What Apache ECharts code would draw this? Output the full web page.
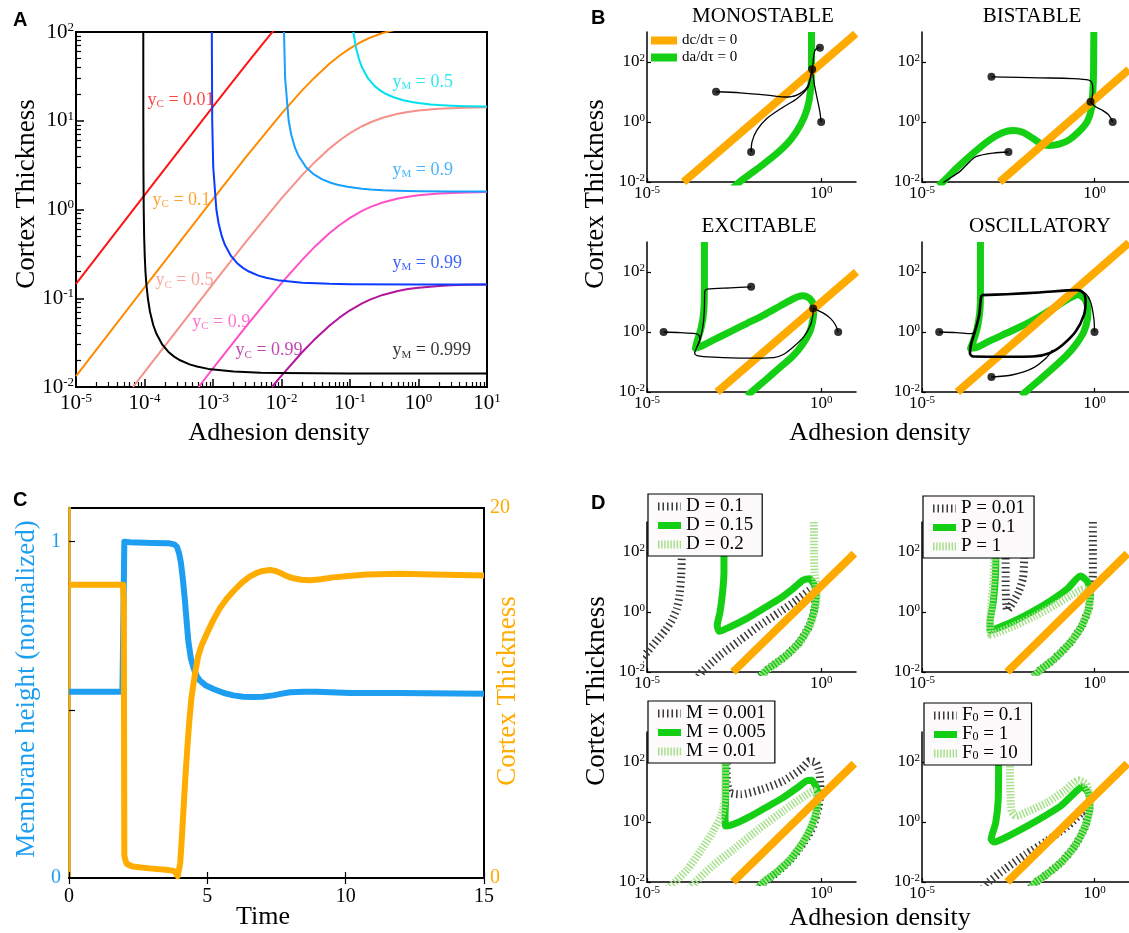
<!DOCTYPE html>
<html><head><meta charset="utf-8">
<script src="https://cdn.jsdelivr.net/npm/echarts@6/dist/echarts.min.js"></script>
<style>html,body{margin:0;padding:0;background:#fff}#c{width:1129px;height:933px}</style>
</head><body><div id="c"></div>
<script>
const SERIF = 'Liberation Serif';
const SANS = 'Liberation Sans';
const ORANGE = '#ffaa00';
const GREEN = '#14cf14';
const LGREEN = '#a8e08e';
const DGRAY = '#3a3a3a';
const C_BLUE = '#1e9ef0';
const C_ORANGE = '#ffac00';

// ---------------- Panel A ----------------
const aXTicks = [1e-5, 1e-4, 1e-3, 1e-2, 1e-1, 1, 10];
const aYTicks = [1e-2, 1e-1, 1, 10, 100];
const aYC_001 = [[1e-5,0.1455],[1e-4,1.454],[1e-3,14.4],[3e-3,42.4],[5e-3,69.2],[7e-3,95.0],[1e-2,132]];
const aYC_01 = [[1e-5,0.01326],[1e-4,0.1325],[1e-3,1.312],[3e-3,3.86],[1e-2,12.02],[2e-2,22.0],[3e-2,30.4],[5e-2,43.8],[7e-2,54.0],[0.1,65.4],[0.15,78.2],[0.2,86.8],[0.3,97.4],[0.5,108],[1,117.6]];
const aYC_05 = [[6.8e-5,0.01],[1e-4,0.0147],[1e-3,0.1455],[3e-3,0.428],[1e-2,1.333],[2e-2,2.438],[3e-2,3.37],[5e-2,4.854],[7e-2,5.983],[0.1,7.25],[0.15,8.674],[0.2,9.62],[0.3,10.8],[0.5,11.97],[0.7,12.55],[1,13.03],[2,13.64],[3,13.85],[5,14.03],[10,14.16]];
const aYC_09 = [[6.16e-4,0.01],[1e-3,0.01617],[3e-3,0.0475],[1e-2,0.148],[2e-2,0.271],[3e-2,0.3745],[5e-2,0.539],[7e-2,0.665],[0.1,0.805],[0.15,0.964],[0.2,1.069],[0.3,1.2],[0.5,1.33],[0.7,1.395],[1,1.448],[2,1.515],[3,1.539],[5,1.559],[10,1.574]];
const aYC_099 = [[7.24e-3,0.01],[1e-2,0.01346],[2e-2,0.02462],[3e-2,0.034],[5e-2,0.049],[7e-2,0.0604],[0.1,0.0732],[0.15,0.0876],[0.2,0.0971],[0.3,0.109],[0.5,0.1209],[0.7,0.1268],[1,0.1316],[2,0.1377],[3,0.1399],[5,0.1416],[10,0.143]];
const aYM_05 = [[0.112,100],[0.1206,70],[0.1345,50],[0.1494,40],[0.1834,30],[0.2243,25],[0.2743,22],[0.337,20],[0.4229,18.5],[0.6,17.02],[0.8,16.25],[1,15.82],[1.5,15.28],[2,15.02],[3,14.77],[5,14.58],[10,14.44]];
const aYM_09 = [[0.01087,100],[0.0113,30],[0.01272,10],[0.01384,7],[0.01569,5],[0.01776,4],[0.02277,3],[0.0294,2.5],[0.0386,2.2],[0.0522,2],[0.0656,1.9],[0.0917,1.8],[0.15,1.712],[0.2,1.68],[0.3,1.649],[0.5,1.625],[1,1.607],[3,1.596],[10,1.592]];
const aYM_099 = [[9.61e-4,100],[9.74e-4,10],[1.008e-3,3],[1.12e-3,1],[1.206e-3,0.7],[1.343e-3,0.5],[1.492e-3,0.4],[1.83e-3,0.3],[2.235e-3,0.25],[2.729e-3,0.22],[3.345e-3,0.2],[4.62e-3,0.18],[5.96e-3,0.17],[8.83e-3,0.16],[0.02,0.1498],[0.05,0.1454],[0.1,0.144],[1,0.1427],[10,0.1426]];
const aYM_0999 = [[9.6e-5,100],[9.614e-5,10],[9.646e-5,3],[9.74e-5,1],[9.88e-5,0.5],[1.008e-4,0.3],[1.033e-4,0.2],[1.06e-4,0.15],[1.119e-4,0.1],[1.204e-4,0.07],[1.341e-4,0.05],[1.488e-4,0.04],[1.823e-4,0.03],[2.22e-4,0.025],[2.708e-4,0.022],[3.31e-4,0.02],[4.55e-4,0.018],[5.83e-4,0.017],[8.53e-4,0.016],[2e-3,0.01492],[5e-3,0.01448],[1e-2,0.01434],[0.1,0.01421],[10,0.0142]];
const aCurveNames = ['y_C = 0.01','y_C = 0.1','y_C = 0.5','y_C = 0.9','y_C = 0.99','y_M = 0.5','y_M = 0.9','y_M = 0.99','y_M = 0.999'];

// ---------------- Panel B ----------------
const bXTicks = [1e-5, 1];
const bYTicks = [1e-2, 1, 100];
const b1Orange = [[1.12e-4,0.01],[9.8,870]];
const b1Green = [[0.0028,0.006],[0.0048,0.0105],[0.0181,0.033],[0.0545,0.0916],[0.131,0.253],[0.255,0.80],[0.40,2.84],[0.49,10.2],[0.527,60],[0.527,1000]];
const b1Fixed = [[0.55,57]];
const b1Starts = [[9.6e-4,10.2],[0.92,300],[1,1],[9.75e-3,0.1]];
const b1T1 = [[9.6e-4,10.2],[4.8e-3,9.4],[2.8e-2,7.9],[8.5e-2,6.8],[0.2,7.9],[0.4,14.9],[0.53,47],[0.55,57]];
const b1T2 = [[9.75e-3,0.1],[0.0104,0.223],[0.0145,0.545],[0.028,1.33],[0.0845,3.24],[0.204,6.1],[0.40,13.1],[0.49,28],[0.55,57]];
const b1T3 = [[0.92,300],[0.69,263],[0.615,166],[0.575,78],[0.55,57]];
const b1T4 = [[1,1],[0.916,2.2],[0.767,6.1],[0.643,16.9],[0.575,41],[0.55,57]];

const b2Orange = [[1.78e-3,0.01],[10,56]];
const b2Green = [[3e-5,0.0075],[4.2e-5,0.0105],[1.01e-4,0.0291],[3.05e-4,0.0916],[9.2e-4,0.254],[2.22e-3,0.444],[4.3e-3,0.518],[8.3e-3,0.455],[0.0162,0.288],[0.028,0.187],[0.0487,0.164],[0.0944,0.182],[0.183,0.254],[0.355,0.48],[0.615,1.03],[0.82,2.84],[0.895,10.2],[0.935,36],[0.957,1000]];
const b2Fixed = [[0.767,4.74]];
const b2Starts = [[1.03e-3,32],[3.37,1],[3.2e-3,0.1]];
const b2T1 = [[1.03e-3,32],[0.0251,29.6],[0.228,28.1],[0.687,24.8],[0.857,19.2],[0.895,10.2],[0.82,5.4],[0.767,4.74]];
const b2T2 = [[3.37,1],[2.58,1.71],[1.66,2.5],[1.07,3.24],[0.767,4.74]];
const b2T3 = [[3.2e-3,0.1],[1.15e-3,0.0916],[3.8e-4,0.071],[2.45e-4,0.0484],[1.26e-4,0.0226],[4.7e-5,0.0105],[3.5e-5,0.008]];

const b3Orange = [[1.03e-3,0.01],[10.3,100]];
const b3Green = [[0.0075,0.0075],[0.0104,0.0105],[0.0251,0.025],[0.0608,0.061],[0.147,0.149],[0.284,0.372],[0.472,1.03],[0.589,2.84],[0.615,6.9],[0.516,11.5],[0.396,14.9],[0.284,16.1],[0.164,13.1],[0.0678,7.5],[0.0225,3.67],[7.5e-3,1.95],[2.48e-3,1.03],[8.2e-4,0.545],[3.41e-4,0.327],[2.45e-4,0.288],[2.74e-4,0.48],[3.56e-4,1.33],[4.25e-4,4.74],[4.45e-4,36],[4.45e-4,1000]];
const b3Fixed = [[0.589,6.1]];
const b3Starts = [[9.75e-3,32],[3.0e-5,1],[3.08,1]];
const b3T1 = [[9.75e-3,32],[2.48e-3,29.6],[5.3e-4,26.7],[4.54e-4,21.8],[4.45e-4,6.1],[4.07e-4,1.71],[3.41e-4,0.618],[2.62e-4,0.288],[2.34e-4,0.197],[2.74e-4,0.164],[8.2e-4,0.145],[7.5e-3,0.134],[0.0436,0.141],[0.0845,0.182],[0.164,0.327],[0.318,0.70],[0.494,1.71],[0.577,3.67],[0.589,6.1]];
const b3T2 = [[3.0e-5,1],[9.1e-5,0.953],[2.45e-4,0.883],[3.12e-4,0.76],[3.26e-4,0.545],[2.74e-4,0.327]];
const b3T3 = [[3.08,1],[2.58,1.71],[1.85,2.84],[1.19,4.17],[0.767,5.4],[0.589,6.1]];

const b4Orange = [[1.06e-4,0.01],[10,940]];
const b4Green = [[0.0075,0.0075],[0.0104,0.0105],[0.0251,0.025],[0.0608,0.061],[0.147,0.156],[0.284,0.372],[0.493,1.03],[0.63,2.84],[0.643,6.1],[0.527,12.5],[0.339,17.8],[0.183,13.1],[0.0757,6.9],[0.0251,3.24],[8.3e-3,1.63],[2.77e-3,0.906],[9.2e-4,0.505],[3.8e-4,0.303],[2.56e-4,0.288],[3.05e-4,0.48],[3.98e-4,1.33],[4.74e-4,4.74],[4.95e-4,21.8],[4.95e-4,1000]];
const b4Starts = [[3.15e-5,1],[1.0,1],[1.03e-3,0.0315]];
const b4Cycle = [[5.3e-4,16.9],[2.77e-3,18.2],[0.0251,20.7],[0.318,24.8],[0.493,19.2],[0.551,10.2],[0.493,3.67],[0.284,1.03],[0.118,0.372],[0.0487,0.197],[0.0162,0.152],[2.77e-3,0.149],[3.05e-4,0.152],[2.45e-4,0.197],[2.62e-4,0.372],[3.41e-4,1.03],[4.54e-4,3.67],[4.95e-4,10.2],[5.3e-4,16.9]];
const b4T1 = [[3.15e-5,1],[1.01e-4,0.953],[2.74e-4,0.883],[3.41e-4,1.03]];
const b4T2 = [[1,1],[0.957,2.84],[0.767,10.2],[0.551,19.2],[0.355,23.5]];
const b4T3 = [[1.03e-3,0.0315],[4.3e-3,0.0376],[0.0162,0.0625],[0.0391,0.134],[0.0608,0.254]];

// ---------------- Panel C ----------------
const cXTicks = [0, 5, 10, 15];
const cMembrane = [[0,0.554],[1.93,0.554],[1.97,0.8],[2.0,1.0],[2.2,0.998],[3.0,0.996],[3.6,0.995],[3.8,0.992],[3.9,0.985],[3.98,0.965],[4.05,0.935],[4.12,0.885],[4.19,0.825],[4.25,0.765],[4.31,0.706],[4.4,0.655],[4.49,0.627],[4.6,0.603],[4.73,0.587],[4.95,0.572],[5.22,0.562],[5.6,0.55],[5.94,0.543],[6.3,0.539],[6.66,0.538],[7.0,0.539],[7.38,0.543],[7.7,0.548],[7.99,0.552],[8.5,0.554],[8.95,0.554],[10.16,0.55],[11.96,0.55],[15,0.548]];
const cCortex = [[0,15.85],[1.95,15.85],[1.98,15.0],[2.0,1.2],[2.05,0.9],[2.1,0.75],[2.3,0.62],[2.9,0.52],[3.5,0.45],[3.75,0.4],[3.85,0.3],[3.93,0.1],[3.97,0.05],[4.02,0.8],[4.08,2.2],[4.13,3.5],[4.2,5.3],[4.28,7.1],[4.35,8.5],[4.43,9.8],[4.55,11.0],[4.67,12.0],[4.8,12.6],[4.98,13.2],[5.2,13.9],[5.46,14.6],[5.7,15.1],[5.94,15.5],[6.24,15.95],[6.54,16.3],[6.8,16.5],[7.0,16.6],[7.27,16.65],[7.45,16.6],[7.63,16.5],[7.85,16.33],[8.11,16.2],[8.4,16.12],[8.71,16.1],[9.1,16.15],[9.55,16.25],[10.1,16.33],[10.76,16.4],[11.96,16.45],[13.17,16.4],[15,16.35]];

// ---------------- Panel D ----------------
const dOrange = [[2.94e-3,0.01],[8.95,88]];
const d1D015 = [[0.018,0.007],[0.0269,0.0114],[0.0416,0.0167],[0.1,0.036],[0.24,0.1],[0.464,0.36],[0.645,1.29],[0.72,3.6],[0.645,7.74],[0.464,12.9],[0.3,11.4],[0.155,6.0],[0.0645,2.78],[0.0215,1.29],[7.2e-3,0.6],[2.4e-3,0.316],[1.19e-3,0.227],[1.04e-3,0.36],[1.25e-3,1.0],[1.48e-3,4.64],[1.62e-3,21.5],[1.62e-3,100],[1.62e-3,1000]];
const d1D01a = [[6.4e-6,0.0245],[1.12e-5,0.0527],[1.93e-5,0.114],[3.34e-5,0.245],[5.18e-5,0.527],[7.2e-5,1.29],[8.6e-5,3.6],[9.6e-5,16.7],[1e-4,100],[1e-4,1000]];
const d1D01b = [[3.0e-4,0.007],[4.16e-4,0.0114],[1.25e-3,0.036],[4.64e-3,0.114],[0.0173,0.36],[0.0645,1.0],[0.193,2.45],[0.464,5.27],[0.578,5.7],[0.69,3.6],[0.645,1.29],[0.464,0.36],[0.24,0.1],[0.1,0.036],[0.0416,0.0167],[0.0269,0.0114],[0.018,0.007]];
const d1D02 = [[0.617,1000],[0.617,100],[0.645,21.5],[0.72,7.74],[0.752,3.6],[0.674,1.29],[0.485,0.36],[0.251,0.1],[0.104,0.036],[0.0435,0.0167],[0.0269,0.0114],[0.018,0.007]];

const d2P01 = [[0.017,0.007],[0.026,0.0114],[0.0692,0.0278],[0.205,0.1],[0.439,0.36],[0.676,1.29],[0.754,4.08],[0.634,10],[0.393,15.8],[0.165,6.0],[0.0556,2.45],[0.0151,1.0],[4.1e-3,0.464],[1.39e-3,0.278],[9.4e-4,0.245],[9.4e-4,0.464],[1.16e-3,2.15],[1.33e-3,12.9],[1.39e-3,88],[1.39e-3,1000]];
const d2P001a = [[2.66e-3,1000],[2.66e-3,77],[2.66e-3,7.74],[2.77e-3,1.67],[2.96e-3,1.14],[4.1e-3,1.9],[6.3e-3,4.64],[8.4e-3,12.9],[9.2e-3,60],[9.4e-3,1000]];
const d2P001b = [[0.897,1000],[0.897,100],[0.897,16.7],[0.841,7.74],[0.754,4.08],[0.676,1.29],[0.439,0.36],[0.205,0.1],[0.0692,0.0278],[0.026,0.0114],[0.017,0.007]];
const d2P1 = [[1.27e-3,1000],[1.27e-3,77],[1.16e-3,10],[1.02e-3,1.67],[9.4e-4,0.36],[1.02e-3,0.175],[1.72e-3,0.215],[5.1e-3,0.36],[0.0188,0.735],[0.0692,1.67],[0.205,3.6],[0.489,5.7],[0.721,4.08],[0.676,1.29],[0.439,0.36],[0.205,0.1],[0.0692,0.0278],[0.026,0.0114],[0.017,0.007]];

const d3M0005 = [[0.015,0.006],[0.0224,0.01],[0.0509,0.0205],[0.13,0.057],[0.295,0.205],[0.53,0.735],[0.755,2.64],[0.81,7.36],[0.703,15.8],[0.53,24.5],[0.373,23.3],[0.208,13.9],[0.0813,6.5],[0.0252,3.0],[7.8e-3,1.39],[3.06e-3,0.836],[1.82e-3,0.735],[1.74e-3,1.58],[1.82e-3,7.4],[1.82e-3,108],[1.82e-3,1000]];
const d3M0001 = [[1.91e-3,1000],[1.91e-3,108],[2.0e-3,20.5],[2.41e-3,9.5],[4.88e-3,8.36],[0.0199,12.3],[0.0813,23.3],[0.263,57],[0.472,108],[0.703,95],[0.889,44],[0.955,12.3],[0.85,3.4],[0.597,0.735],[0.317,0.205],[0.136,0.057],[0.0533,0.0205],[0.0235,0.01],[0.016,0.006]];
const d3M001a = [[1.78e-3,1000],[1.78e-3,108],[1.7e-3,5.7],[1.34e-3,1.58],[7.5e-4,0.44],[3.7e-4,0.123],[1.45e-4,0.0264],[6.4e-5,0.01],[4e-5,0.006]];
const d3M001b = [[1.7e-4,0.006],[2.43e-4,0.01],[7.5e-4,0.034],[3.06e-3,0.123],[0.0158,0.57],[0.0813,2.33],[0.332,7.36],[0.597,10.8],[0.755,7.36],[0.755,2.64],[0.53,0.735],[0.295,0.205],[0.13,0.057],[0.0509,0.0205],[0.0224,0.01],[0.015,0.006]];

const d4F1 = [[0.013,0.006],[0.0204,0.01],[0.0412,0.018],[0.105,0.044],[0.269,0.158],[0.543,0.735],[0.738,3.0],[0.656,9.5],[0.43,15.1],[0.269,9.5],[0.105,3.41],[0.0204,1.08],[3.95e-3,0.388],[1.22e-3,0.215],[1.01e-3,0.264],[1.37e-3,0.95],[1.62e-3,5.7],[1.66e-3,95],[1.66e-3,1000]];
const d4F01 = [[6e-4,0.006],[8.6e-4,0.01],[2.47e-3,0.0264],[0.0101,0.0836],[0.0412,0.233],[0.168,0.735],[0.43,2.05],[0.656,3.0],[0.543,0.735],[0.269,0.158],[0.105,0.044],[0.0412,0.018],[0.0204,0.01],[0.013,0.006]];
const d4F10 = [[3.52e-3,1000],[3.52e-3,108],[3.68e-3,7.36],[3.95e-3,2.33],[5.24e-3,1.58],[0.0128,2.33],[0.0412,4.41],[0.133,10.8],[0.34,24.5],[0.57,18.0],[0.72,7.36],[0.738,3.0],[0.543,0.735],[0.269,0.158],[0.105,0.044],[0.0412,0.018],[0.0204,0.01],[0.013,0.006]];

// ---------------- helpers ----------------
function logFmt(v){ const e = Math.round(Math.log10(v)); return '{b|10}{s|' + e + '}'; }
const richBig = { b:{fontFamily:SERIF,fontSize:21,color:'#000',lineHeight:22}, s:{fontFamily:SERIF,fontSize:13,color:'#000',verticalAlign:'top',lineHeight:11} };
const richSmall = { b:{fontFamily:SERIF,fontSize:17,color:'#000',lineHeight:18}, s:{fontFamily:SERIF,fontSize:11,color:'#000',verticalAlign:'top',lineHeight:9} };

const aXMinor = [], aYMinor = [];
for (let e = -5; e < 1; e++) for (let k = 2; k <= 9; k++) aXMinor.push(k * Math.pow(10, e));
for (let e = -2; e < 2; e++) for (let k = 2; k <= 9; k++) aYMinor.push(k * Math.pow(10, e));

const grids = [
  {left:76, top:32, width:411, height:355, show:true, borderColor:'#000', borderWidth:2},
  {left:647, top:32, width:209, height:150},
  {left:922, top:32, width:209, height:150},
  {left:647, top:242, width:209, height:150},
  {left:922, top:242, width:209, height:150},
  {left:69, top:508, width:415, height:370, show:true, borderColor:'#000', borderWidth:2},
  {left:647, top:522, width:209, height:150},
  {left:922, top:522, width:209, height:150},
  {left:647, top:732, width:209, height:150},
  {left:922, top:732, width:209, height:150}
];

function smallX(gi){ return {type:'log', logBase:10, gridIndex:gi, min:1e-5, max:10,
  axisLine:{show:true, lineStyle:{color:'#000', width:1.5}},
  axisTick:{show:true, inside:true, length:4, customValues:bXTicks, lineStyle:{color:'#000', width:1.2}},
  axisLabel:{customValues:bXTicks, formatter:logFmt, rich:richSmall, margin:3},
  splitLine:{show:false}}; }
function smallY(gi){ return {type:'log', logBase:10, gridIndex:gi, min:1e-2, max:1e3,
  axisLine:{show:true, lineStyle:{color:'#000', width:1.5}},
  axisTick:{show:true, inside:true, length:4, customValues:bYTicks, lineStyle:{color:'#000', width:1.2}},
  axisLabel:{customValues:bYTicks, formatter:logFmt, rich:richSmall, margin:2},
  splitLine:{show:false}}; }

const xAxes = [
  {type:'log', logBase:10, gridIndex:0, min:1e-5, max:10,
   axisLine:{lineStyle:{color:'#000', width:2}},
   axisTick:{show:true, inside:true, length:8, customValues:aXTicks, lineStyle:{color:'#000', width:1.5}},
   axisLabel:{customValues:aXTicks, formatter:logFmt, rich:richBig, margin:5},
   splitLine:{show:false}},
  smallX(1), smallX(2), smallX(3), smallX(4),
  {type:'value', gridIndex:5, min:0, max:15, interval:5,
   axisLine:{lineStyle:{color:'#000', width:2}},
   axisTick:{inside:true, length:6, lineStyle:{color:'#000', width:1.2}},
   axisLabel:{customValues:cXTicks, fontFamily:SERIF, fontSize:20, color:'#000', margin:9},
   splitLine:{show:false}},
  smallX(6), smallX(7), smallX(8), smallX(9),
  {type:'log', logBase:10, gridIndex:0, min:1e-5, max:10, position:'bottom',
   axisLine:{show:false}, axisLabel:{show:false}, splitLine:{show:false},
   axisTick:{show:true, inside:true, length:5, customValues:aXMinor, lineStyle:{color:'#000', width:1.2}}},
  {type:'value', gridIndex:5, min:0, max:15, interval:5, position:'top',
   axisLine:{lineStyle:{color:'#000', width:2}}, axisLabel:{show:false}, splitLine:{show:false},
   axisTick:{inside:true, length:6, lineStyle:{color:'#000', width:1.2}}}
];
const yAxes = [
  {type:'log', logBase:10, gridIndex:0, min:1e-2, max:100,
   axisLine:{lineStyle:{color:'#000', width:2}},
   axisTick:{show:true, inside:true, length:8, customValues:aYTicks, lineStyle:{color:'#000', width:1.5}},
   axisLabel:{customValues:aYTicks, formatter:logFmt, rich:richBig, margin:2},
   splitLine:{show:false}},
  smallY(1), smallY(2), smallY(3), smallY(4),
  {type:'value', gridIndex:5, min:0, max:1.1,
   axisLine:{lineStyle:{color:C_BLUE, width:2.5}},
   axisTick:{inside:true, length:6, customValues:[0.5,1], lineStyle:{color:'#000', width:1.2}},
   axisLabel:{customValues:[0,1], fontFamily:SERIF, fontSize:20, color:C_BLUE, margin:8},
   splitLine:{show:false}},
  smallY(6), smallY(7), smallY(8), smallY(9),
  {type:'log', logBase:10, gridIndex:0, min:1e-2, max:100, position:'left',
   axisLine:{show:false}, axisLabel:{show:false}, splitLine:{show:false},
   axisTick:{show:true, inside:true, length:5, customValues:aYMinor, lineStyle:{color:'#000', width:1.2}}},
  {type:'value', gridIndex:5, min:0, max:20, position:'right',
   axisLine:{lineStyle:{color:C_ORANGE, width:2.5}},
   axisTick:{show:false},
   axisLabel:{customValues:[0,20], fontFamily:SERIF, fontSize:20, color:C_ORANGE, margin:6},
   splitLine:{show:false}}
];

const series = [];
function line(gi, data, color, width, extra){
  const s = {type:'line', xAxisIndex:gi, yAxisIndex:gi, data:data, symbol:'none', showSymbol:false,
    smooth:false, silent:true, animation:false,
    lineStyle:{color:color, width:width, cap:'butt', join:'round'}, itemStyle:{color:color}};
  if (extra) { for (const k in extra) { if (k === 'lineStyle') Object.assign(s.lineStyle, extra[k]); else s[k] = extra[k]; } }
  series.push(s);
}
function dots(gi, data){
  series.push({type:'scatter', xAxisIndex:gi, yAxisIndex:gi, data:data, symbolSize:8, silent:true,
    itemStyle:{color:'#000'}, z:5, animation:false});
}

// Panel A curves
const aColors = ['#ff1414','#ff8c00','#f7918b','#ff50c8','#b3169c','#00e1f0','#18a0ff','#0a3cff','#000000'];
[aYC_001, aYC_01, aYC_05, aYC_09, aYC_099, aYM_05, aYM_09, aYM_099, aYM_0999].forEach((d,i) =>
  line(0, d, aColors[i], 2, {name:aCurveNames[i]}));

// Panel A labels (anchored in data coordinates)
const aLabelAnchors = [[1.09e-4,17.1],[1.29e-4,1.28],[1.42e-4,0.16],[4.9e-4,0.054],[2.1e-3,0.026],[0.41,27.4],[0.41,2.79],[0.41,0.249],[0.41,0.026]];
series.push({type:'scatter', xAxisIndex:0, yAxisIndex:0, symbolSize:1, silent:true, animation:false,
  itemStyle:{color:'rgba(0,0,0,0)'}, z:6,
  data: aCurveNames.map((n,i) => {
    const sub = n.charAt(2), val = n.slice(3);
    return {value: aLabelAnchors[i], label:{show:true, position:'right', distance:0,
      formatter:'{m|y}{u|' + sub + '}{m|' + val + '}',
      rich:{m:{fontFamily:SERIF, fontSize:18, color:aColors[i], lineHeight:20},
            u:{fontFamily:SERIF, fontSize:11, color:aColors[i], verticalAlign:'bottom', lineHeight:12}}}};
  })});

// Panel B
const NC = 'dc/dτ = 0', NA = 'da/dτ = 0';
function bPanel(gi, green, orange, trajs, thick, fixed, starts){
  line(gi, green, GREEN, 7, {name:NA, smooth:0.2});
  line(gi, orange, ORANGE, 8, {name:NC});
  trajs.forEach(t => line(gi, t, '#000', 1.3, {smooth:0.3}));
  if (thick) line(gi, thick, '#000', 2.6, {smooth:0.3});
  if (fixed) dots(gi, fixed);
  dots(gi, starts);
}
bPanel(1, b1Green, b1Orange, [b1T1,b1T2,b1T3,b1T4], null, b1Fixed, b1Starts);
bPanel(2, b2Green, b2Orange, [b2T1,b2T2,b2T3], null, b2Fixed, b2Starts);
bPanel(3, b3Green, b3Orange, [b3T1,b3T2,b3T3], null, b3Fixed, b3Starts);
bPanel(4, b4Green, b4Orange, [b4T1,b4T2,b4T3], b4Cycle, null, b4Starts);

// Panel C
series.push({type:'line', name:'Membrane height', xAxisIndex:5, yAxisIndex:5, data:cMembrane, symbol:'none',
  smooth:false, silent:true, animation:false, lineStyle:{color:C_BLUE, width:6, join:'round'}});
series.push({type:'line', name:'Cortex thickness', xAxisIndex:5, yAxisIndex:11, data:cCortex, symbol:'none',
  smooth:false, silent:true, animation:false, lineStyle:{color:C_ORANGE, width:6, join:'round'}});

// Panel D
const HATCH_DARK = {color:DGRAY, width:8, type:[1.5,3]};
const HATCH_LIGHT = {color:LGREEN, width:8, type:[1.5,1.6]};
function dPanel(gi, names, darkParts, solid, lightParts){
  darkParts.forEach(p => line(gi, p, DGRAY, 8, {name:names[0], smooth:0.2, lineStyle:{type:[1.5,3]}}));
  line(gi, solid, GREEN, 7, {name:names[1], smooth:0.2});
  lightParts.forEach(p => line(gi, p, LGREEN, 8, {name:names[2], smooth:0.2, lineStyle:{type:[1.5,1.6]}}));
  line(gi, dOrange, ORANGE, 8, {name:NC});
}
const dNames = [['D = 0.1','D = 0.15','D = 0.2'],['P = 0.01','P = 0.1','P = 1'],['M = 0.001','M = 0.005','M = 0.01'],['F0 = 0.1','F0 = 1','F0 = 10']];
dPanel(6, dNames[0], [d1D01a, d1D01b], d1D015, [d1D02]);
dPanel(7, dNames[1], [d2P001a, d2P001b], d2P01, [d2P1]);
dPanel(8, dNames[2], [d3M0001], d3M0005, [d3M001a, d3M001b]);
dPanel(9, dNames[3], [d4F01], d4F1, [d4F10]);

// Legends
const legends = [{
  left:651, top:33, orient:'vertical', selectedMode:false, padding:0, itemGap:2,
  itemWidth:26, itemHeight:8,
  data:[{name:NC, icon:'rect'}, {name:NA, icon:'rect'}],
  textStyle:{fontFamily:SERIF, fontSize:15, color:'#000'}
}];
const dLegendPos = [[648,494],[923,496],[648,701],[924,703]];
dNames.forEach((nm, i) => {
  legends.push({
    left:dLegendPos[i][0], top:dLegendPos[i][1], orient:'vertical', selectedMode:false,
    backgroundColor:'#fcfafa', borderColor:'#000', borderWidth:1.2, borderRadius:0,
    padding:[3,9,2,6], itemGap:0, itemWidth:23, itemHeight:14,
    data:[{name:nm[0], lineStyle:HATCH_DARK, itemStyle:{opacity:0}},
          {name:nm[1], lineStyle:{color:GREEN, width:7, type:'solid'}, itemStyle:{opacity:0}},
          {name:nm[2], lineStyle:HATCH_LIGHT, itemStyle:{opacity:0}}],
    formatter: n => n.indexOf('F0') === 0 ? '{t|F}{s|0}{t|' + n.slice(2) + '}' : '{t|' + n + '}',
    textStyle:{fontFamily:SERIF, fontSize:19, color:'#000', lineHeight:17,
      rich:{t:{fontFamily:SERIF, fontSize:19, color:'#000', lineHeight:17},
            s:{fontFamily:SERIF, fontSize:12, color:'#000', verticalAlign:'bottom', lineHeight:10}}}
  });
});

// Text annotations: panel letters, titles, axis names
function txt(t, x, y, font, color, rot, align){
  return {type:'text', x:x, y:y, rotation:rot||0, silent:true,
    style:{text:t, font:font, fill:color||'#000', textAlign:align||'center', textVerticalAlign:'middle',
           align:align||'center', verticalAlign:'middle'}};
}
const F_LET = 'bold 20px ' + SANS;
const F_TITLE = '27px ' + SERIF;
const F_SUB = '21px ' + SERIF;
const graphics = [
  txt('A', 13, 20, F_LET, '#000', 0, 'left'),
  txt('B', 591, 18, F_LET, '#000', 0, 'left'),
  txt('C', 13, 500, F_LET, '#000', 0, 'left'),
  txt('D', 591, 503, F_LET, '#000', 0, 'left'),
  txt('Cortex Thickness', 27, 194, F_TITLE, '#000', Math.PI/2),
  txt('Adhesion density', 279, 433, '26px ' + SERIF),
  txt('MONOSTABLE', 763, 16, F_SUB),
  txt('BISTABLE', 1032, 16, F_SUB),
  txt('EXCITABLE', 759, 226, F_SUB),
  txt('OSCILLATORY', 1040, 226, F_SUB),
  txt('Cortex Thickness', 596, 194, F_TITLE, '#000', Math.PI/2),
  txt('Adhesion density', 880, 433, '26px ' + SERIF),
  txt('Membrane height (normalized)', 27, 689, F_TITLE, C_BLUE, Math.PI/2),
  txt('Cortex Thickness', 508, 691, F_TITLE, C_ORANGE, Math.PI/2),
  txt('Time', 263, 917, '26px ' + SERIF),
  txt('Cortex Thickness', 597, 691, F_TITLE, '#000', Math.PI/2),
  txt('Adhesion density', 880, 918, '26px ' + SERIF)
];

const chart = echarts.init(document.getElementById('c'), null, {renderer:'canvas'});
chart.setOption({
  animation:false,
  backgroundColor:'#fff',
  textStyle:{fontFamily:SERIF},
  grid:grids, xAxis:xAxes, yAxis:yAxes, series:series, legend:legends,
  graphic:{elements:graphics}
});
</script>
</body></html>
